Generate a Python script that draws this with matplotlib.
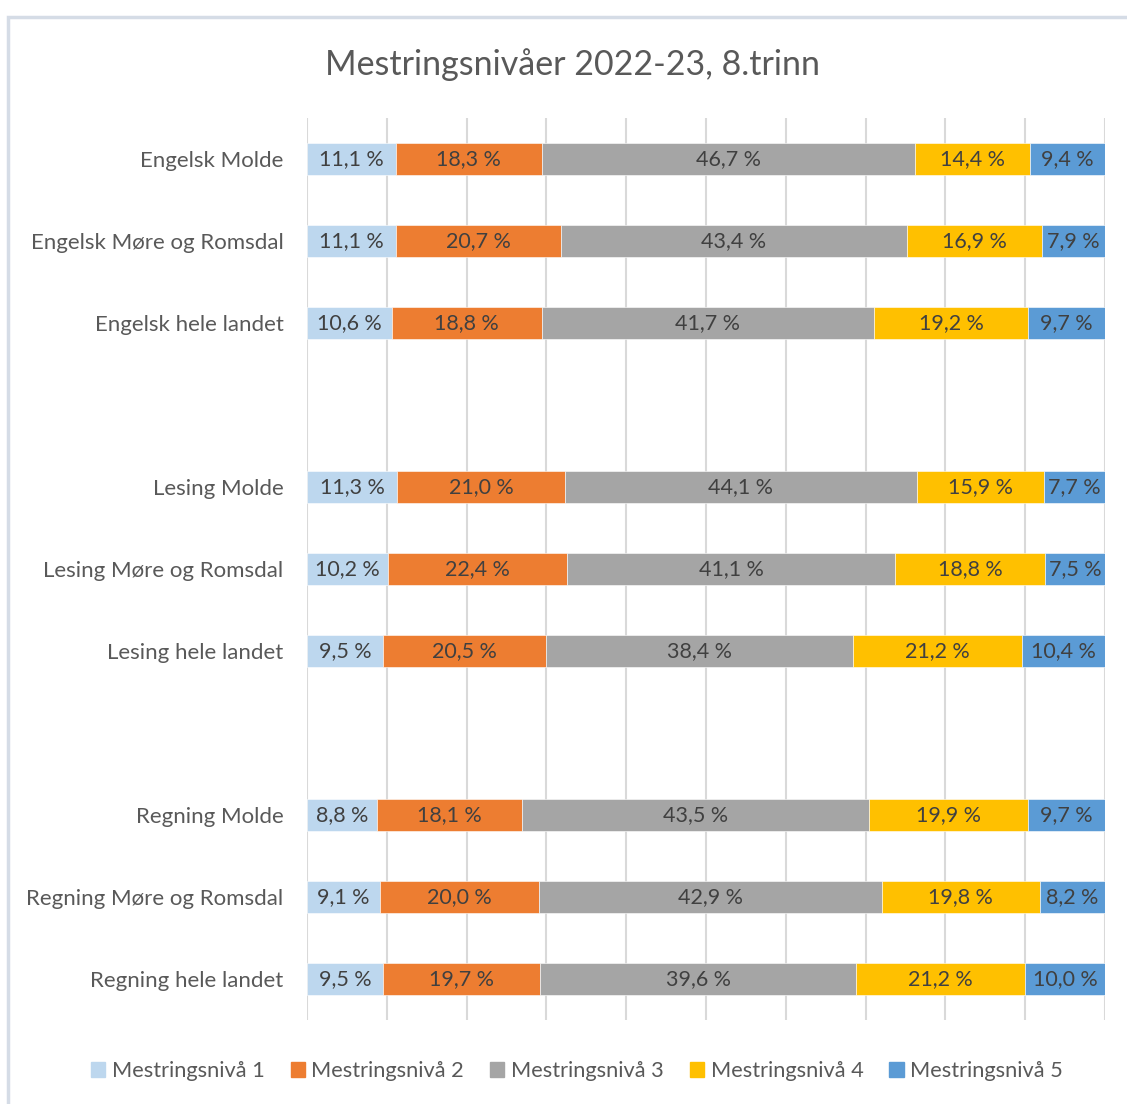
import matplotlib.pyplot as plt
import matplotlib.patches as mpatches
import numpy as np

plt.rcParams['font.family'] = ['Lato', 'DejaVu Sans']

# --- Data (blank strings are spacer rows between subjects) ---
categories = [
    "Engelsk Molde", "Engelsk Møre og Romsdal", "Engelsk hele landet", "",
    "Lesing Molde", "Lesing Møre og Romsdal", "Lesing hele landet", "",
    "Regning Molde", "Regning Møre og Romsdal", "Regning hele landet",
]
niva1 = [11.1, 11.1, 10.6, None, 11.3, 10.2, 9.5, None, 8.8, 9.1, 9.5]
niva2 = [18.3, 20.7, 18.8, None, 21.0, 22.4, 20.5, None, 18.1, 20.0, 19.7]
niva3 = [46.7, 43.4, 41.7, None, 44.1, 41.1, 38.4, None, 43.5, 42.9, 39.6]
niva4 = [14.4, 16.9, 19.2, None, 15.9, 18.8, 21.2, None, 19.9, 19.8, 21.2]
niva5 = [9.4, 7.9, 9.7, None, 7.7, 7.5, 10.4, None, 9.7, 8.2, 10.0]
series_names = ["Mestringsnivå 1", "Mestringsnivå 2", "Mestringsnivå 3",
                "Mestringsnivå 4", "Mestringsnivå 5"]
colors = ["#BDD7EE", "#ED7D31", "#A5A5A5", "#FFC000", "#5B9BD5"]

series = [niva1, niva2, niva3, niva4, niva5]

fig = plt.figure(figsize=(11.27, 11.04), dpi=100)
ax = fig.add_axes([307 / 1127, 1 - 1020 / 1104, (1105 - 307) / 1127, (1020 - 118) / 1104])

# chart border like the Excel chart area (runs off the right and bottom edges)
border = mpatches.Rectangle((8 / 1127, -1), 2, 2 - 17 / 1104,
                            transform=fig.transFigure, fill=False,
                            edgecolor="#D5DCE6", linewidth=2.5)
fig.patches.append(border)

ypos = np.arange(len(categories))
for i, cat in enumerate(categories):
    vals = [s[i] for s in series]
    if vals[0] is None:
        continue
    total = sum(vals)
    left = 0.0
    for v, c in zip(vals, colors):
        w = v / total * 100  # 100 % stacked
        ax.barh(ypos[i], w, left=left, height=0.387, color=c,
                edgecolor="white", linewidth=0.4, zorder=3)
        ax.text(left + w / 2, ypos[i], f"{v:.1f}\u202f%".replace(".", ","),
                ha="center", va="center", fontsize=15.5, color="#404040", zorder=4)
        left += w

handles = [mpatches.Patch(color=c, label=n) for c, n in zip(colors, series_names)]

ax.set_xlim(0, 100)
ax.set_ylim(len(categories) - 0.5, -0.5)
ax.set_xticks(np.arange(0, 101, 10))
ax.set_xticklabels([])
ax.set_yticks(ypos)
ax.set_yticklabels(categories, fontsize=16, color="#595959")
ax.tick_params(axis="y", length=0, pad=17)
ax.tick_params(axis="x", length=0)
ax.grid(axis="x", color="#D9D9D9", linewidth=1.5, zorder=0)
ax.set_axisbelow(True)
for sp in ax.spines.values():
    sp.set_visible(False)

fig.text(0.508, 1 - 65 / 1104, "Mestringsnivåer 2022-23, 8.trinn",
         ha="center", va="center", fontsize=24.5, color="#595959")

fig.legend(handles=handles, loc="center", bbox_to_anchor=(0.512, 1 - 1071 / 1104),
           ncol=5, frameon=False, fontsize=15.7, handlelength=0.65, handleheight=0.65,
           handletextpad=0.3, columnspacing=1.2, labelcolor="#595959")

fig.savefig("out.png", dpi=100)
